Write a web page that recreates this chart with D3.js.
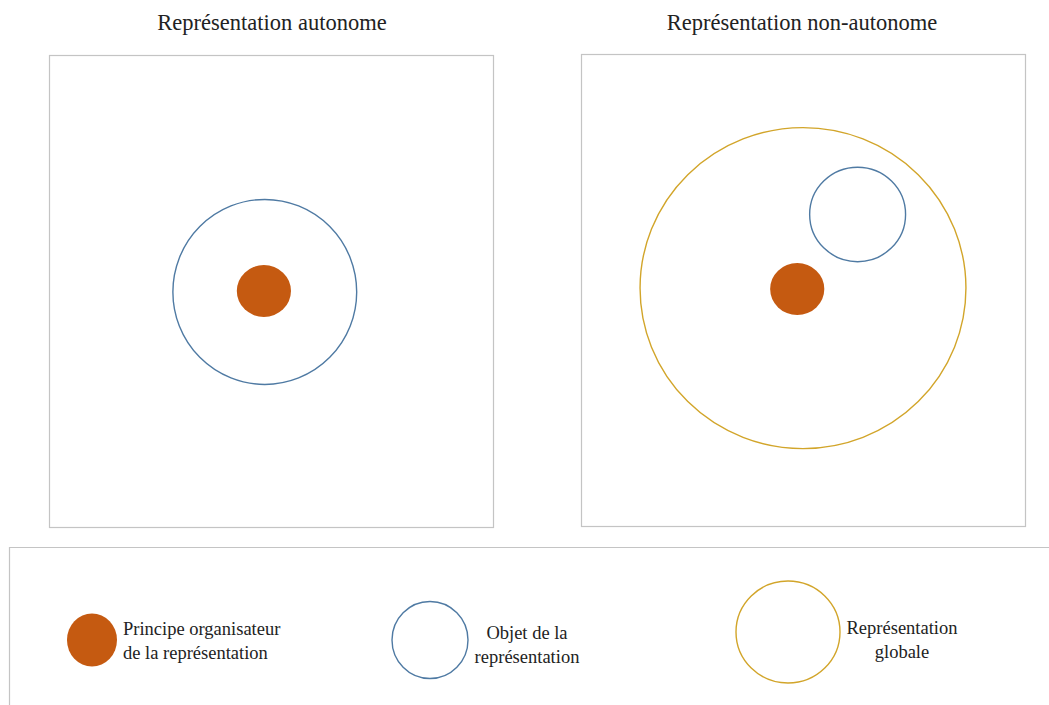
<!DOCTYPE html>
<html>
<head>
<meta charset="utf-8">
<script src="https://cdn.jsdelivr.net/npm/d3@7"></script>
<style>
  html, body { margin: 0; padding: 0; background: #fff; }
  text { font-family: "Liberation Serif", "DejaVu Serif", serif; fill: #222; }
</style>
</head>
<body>
<svg id="chart" width="1049" height="705"></svg>
<script>
const svg = d3.select("#chart"),
      width = +svg.attr("width"),
      height = +svg.attr("height");

// panel titles
const panelTitles = ["Représentation autonome", "Représentation non-autonome"];

// circles per panel, in panel-local units (0..100 horizontally and vertically)
const panelLeft = [
  { kind: "objet",    cx: 48.6, cy: 50.2, rx: 20.7, ry: 19.6 },
  { kind: "principe", cx: 48.4, cy: 50.0, rx: 6.1,  ry: 5.5 }
];
const panelRight = [
  { kind: "globale",  cx: 50.0, cy: 49.6, rx: 36.7, ry: 34.0 },
  { kind: "objet",    cx: 62.3, cy: 34.0, rx: 10.8, ry: 10.0 },
  { kind: "principe", cx: 48.7, cy: 49.8, rx: 6.1,  ry: 5.5 }
];

// legend entries
const legendKinds = ["principe", "objet", "globale"];
const legendLabels = [
  ["Principe organisateur", "de la représentation"],
  ["Objet de la", "représentation"],
  ["Représentation", "globale"]
];

const colors = { principe: "#c55a11", objet: "#4f7aa3", globale: "#d2a52a" };

// panel frames
const panels = [
  { x0: 49,  y0: 55, x1: 493,  y1: 527, titleX: 272, data: panelLeft },
  { x0: 581, y0: 54, x1: 1025, y1: 526, titleX: 802, data: panelRight }
];

const border = "#c4c4c4";

panels.forEach((p, i) => {
  const x = d3.scaleLinear().domain([0, 100]).range([p.x0, p.x1]);
  const y = d3.scaleLinear().domain([0, 100]).range([p.y0, p.y1]);
  const kx = d3.scaleLinear().domain([0, 100]).range([0, p.x1 - p.x0]);
  const ky = d3.scaleLinear().domain([0, 100]).range([0, p.y1 - p.y0]);

  svg.append("rect")
      .attr("x", p.x0 + 0.5).attr("y", p.y0 + 0.5)
      .attr("width", p.x1 - p.x0).attr("height", p.y1 - p.y0)
      .attr("fill", "#fff")
      .attr("stroke", border)
      .attr("stroke-width", 1.2);

  svg.append("text")
      .attr("x", p.titleX)
      .attr("y", 30)
      .attr("text-anchor", "middle")
      .attr("font-size", 22.5)
      .text(panelTitles[i]);

  svg.append("g").selectAll("ellipse")
    .data(p.data)
    .join("ellipse")
      .attr("cx", d => x(d.cx))
      .attr("cy", d => y(d.cy))
      .attr("rx", d => kx(d.rx))
      .attr("ry", d => ky(d.ry))
      .attr("fill", d => d.kind === "principe" ? colors.principe : "none")
      .attr("stroke", d => d.kind === "principe" ? "none" : colors[d.kind])
      .attr("stroke-width", 1.4);
});

// legend box (runs off the right and bottom edges)
svg.append("path")
    .attr("d", `M${width + 2},547.5 H9.5 V${height + 2}`)
    .attr("fill", "none")
    .attr("stroke", border)
    .attr("stroke-width", 1.2);

const legendSymbols = [
  { cx: 92,  cy: 640, rx: 25, ry: 26.5, tx: 123, anchor: "start",  ty: 635 },
  { cx: 430, cy: 640, rx: 38, ry: 38.5, tx: 527, anchor: "middle", ty: 639 },
  { cx: 788, cy: 632, rx: 52, ry: 51,   tx: 902, anchor: "middle", ty: 634 }
];

legendKinds.forEach((k, i) => {
  const s = legendSymbols[i];
  svg.append("ellipse")
      .attr("cx", s.cx).attr("cy", s.cy)
      .attr("rx", s.rx).attr("ry", s.ry)
      .attr("fill", k === "principe" ? colors.principe : "none")
      .attr("stroke", k === "principe" ? "none" : colors[k])
      .attr("stroke-width", 1.4);

  const t = svg.append("text")
      .attr("x", s.tx)
      .attr("y", s.ty)
      .attr("text-anchor", s.anchor)
      .attr("font-size", 18.5);
  legendLabels[i].forEach((line, j) => {
    t.append("tspan")
        .attr("x", s.tx)
        .attr("dy", j === 0 ? "0" : "1.3em")
        .text(line);
  });
});
</script>
</body>
</html>
